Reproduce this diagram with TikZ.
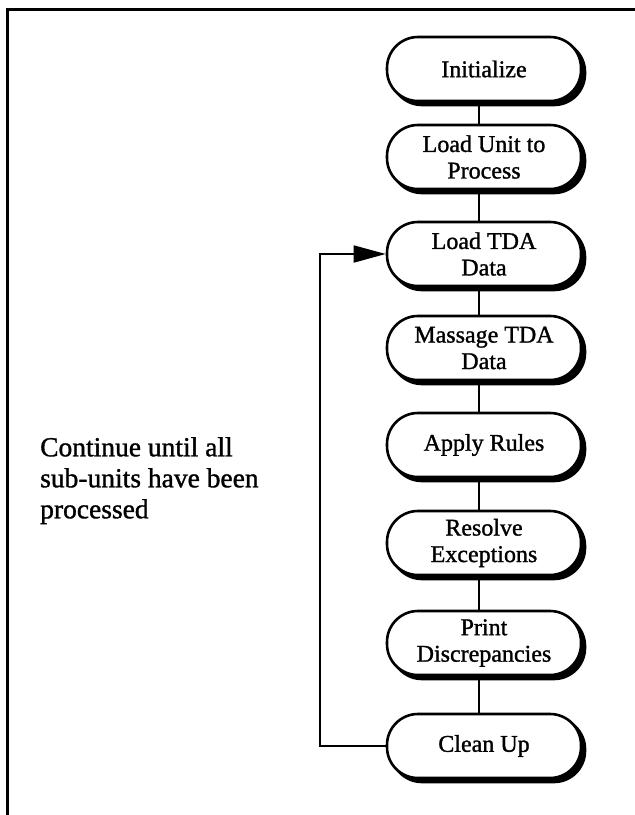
\documentclass[tikz,border=0pt]{standalone}
\usepackage{fontspec}
\setmainfont{Liberation Serif}[FakeBold=1.2]
\usetikzlibrary{arrows.meta,shadows}
\begin{document}
\begin{tikzpicture}[x=1pt,y=-1pt,
  procbox/.style={draw=black, line width=2.6pt, fill=white, rounded corners=31pt,
    minimum width=194pt, minimum height=64pt, align=center,
    font=\fontsize{24}{26.5}\selectfont\addfontfeatures{FakeBold=1.2}, inner sep=2pt,
    general shadow={shadow xshift=4pt, shadow yshift=-4pt, fill=black, draw=black, line width=2.6pt}},
  link/.style={line width=1.8pt},
  frameline/.style={line width=3pt}]
\useasboundingbox (0,0) rectangle (635,815);
% frame
\coordinate (fTR) at (635,9);
\coordinate (fTL) at (7,9);
\coordinate (fBL) at (7,815);
\draw[frameline] (fTR) -- (fTL) -- (fBL);
% process boxes
\node[procbox] (init)   at (484,69)  {Initialize};
\node[procbox] (unit)   at (484,157) {Load Unit to\\Process};
\node[procbox] (tda)    at (484,254) {Load TDA\\Data};
\node[procbox] (mass)   at (484,348) {Massage TDA\\Data};
\node[procbox] (rules)  at (484,445) {Apply Rules};
\node[procbox] (resolve) at (484,543) {Resolve\\Exceptions};
\node[procbox] (print)  at (484,643) {Print\\Discrepancies};
\node[procbox] (clean)  at (484,746) {Clean Up};
% connectors
\foreach \a/\b in {init/unit, unit/tda, tda/mass, mass/rules, rules/resolve, resolve/print, print/clean}
  \draw[link] ([xshift=-5pt]\a.south) -- ([xshift=-5pt]\b.north);
% feedback loop
\coordinate (loopx) at (320,0);
\draw[link, -{Triangle[length=32pt,width=17pt]}] (clean.west) -- (clean.west -| loopx) |- (tda.west);
% note
\node[anchor=north west, align=left, inner sep=0pt, font=\fontsize{27.5}{31}\selectfont\addfontfeatures{FakeBold=1.2}] (note) at (40,437)
  {Continue until all\\sub-units have been\\processed};
\end{tikzpicture}
\end{document}
